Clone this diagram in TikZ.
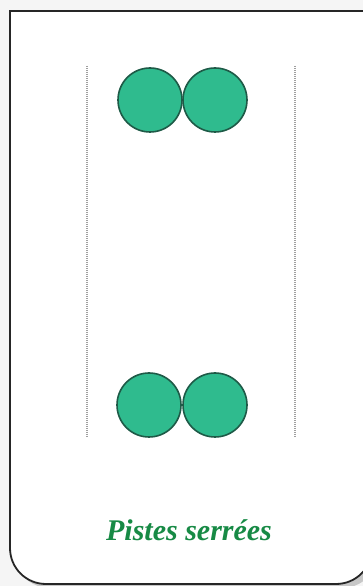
\documentclass[tikz,border=0pt]{standalone}
\usepackage{fontspec}
\setmainfont{Liberation Serif}
\begin{document}
\begin{tikzpicture}[x=1pt,y=1pt,
  puck/.style={circle,draw=puckedge,fill=puckfill,line width=1.6pt,minimum size=64pt,inner sep=0pt},
  lane/.style={draw=gray!75,line width=1.1pt,dash pattern=on 1.2pt off 0.8pt},
  frame/.style={draw=black!85,line width=1.8pt,fill=white}]
\definecolor{puckfill}{HTML}{2FBB8E}
\definecolor{puckedge}{HTML}{1E5A47}
\definecolor{titlegreen}{HTML}{178A45}
\useasboundingbox (0,0) rectangle (363,586);
\fill[black!4] (0,0) rectangle (363,586);
% shadow (y measured upward: y = 586 - image y)
\fill[black!22] (14,570) -- (378,570) -- (378,34) .. controls (378,14) and (362,-2) .. (342,-2) -- (50,-2) .. controls (30,-2) and (14,14) .. (14,34) -- cycle;
\draw[frame] (10,575) -- (372,575) -- (372,38) .. controls (372,18) and (356,2) .. (336,2) -- (46,2) .. controls (26,2) and (10,18) .. (10,38) -- cycle;
\coordinate (l1) at (87,520); \coordinate (l2) at (87,149);
\coordinate (r1) at (295,520); \coordinate (r2) at (295,149);
\draw[lane] (l1) -- (l2);
\draw[lane] (r1) -- (r2);
\node[puck] (a) at (150,486) {};
\node[puck] (b) at (215,486) {};
\node[puck] (c) at (149,181) {};
\node[puck] (d) at (215,181) {};
\node[text=titlegreen,font=\fontsize{30}{33}\selectfont\bfseries\itshape] (t) at (189,56) {Pistes serrées};
\end{tikzpicture}
\end{document}
